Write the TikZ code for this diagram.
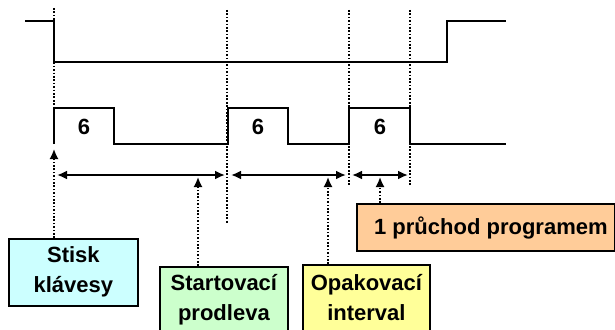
\documentclass[tikz,border=0pt]{standalone}
\usepackage{fontspec}
\setmainfont{Liberation Sans}
\usetikzlibrary{arrows.meta}
\definecolor{keyfill}{HTML}{CCFFFF}
\definecolor{startfill}{HTML}{CCFFCC}
\definecolor{repeatfill}{HTML}{FFFF99}
\definecolor{passfill}{HTML}{FFCC99}
\begin{document}
\begin{tikzpicture}[x=1pt,y=-1pt,
  signal/.style={line width=2.2pt, line join=miter},
  guide/.style={line width=1.7pt, dash pattern=on 1.7pt off 1.7pt},
  span/.style={line width=2.4pt, {Latex[length=10pt,width=9pt]}-{Latex[length=10pt,width=9pt]}},
  pointer/.style={guide, -{Latex[length=10pt,width=9pt]}},
  box/.style={draw, line width=1.8pt, inner sep=0pt, anchor=north west},
  boxtext/.style={font=\bfseries\fontsize{22}{30}\selectfont, align=center, anchor=base, inner sep=0pt},
  pulsetext/.style={font=\bfseries\fontsize{22}{25}\selectfont, inner sep=0pt}]

\useasboundingbox (0,0) rectangle (615,329);
\fill[white] (0,0) rectangle (615,329);

% time marks
\coordinate (t0top) at (54,8);    \coordinate (t0bot) at (54,143);
\coordinate (t1top) at (227,10);  \coordinate (t1bot) at (227,223);
\coordinate (t2top) at (349,10);  \coordinate (t2bot) at (349,185);
\coordinate (t3top) at (410,10);  \coordinate (t3bot) at (410,185);
\draw[guide] (t0top) -- (t0bot);
\draw[guide] (t1top) -- (t1bot);
\draw[guide] (t2top) -- (t2bot);
\draw[guide] (t3top) -- (t3bot);

% key signal
\draw[signal] (25,21) -- (54,21) -- (54,62) -- (447,62) -- (447,21) -- (506,21);

% output pulses
\draw[signal] (54,144) -- (54,108) -- (114,108) -- (114,144) -- (228,144)
  -- (228,108) -- (288,108) -- (288,144) -- (349,144) -- (349,108)
  -- (410,108) -- (410,144) -- (506,144);
\node[pulsetext] (p1) at (84,127) {6};
\node[pulsetext] (p2) at (258,127) {6};
\node[pulsetext] (p3) at (380,127) {6};

% interval spans
\coordinate (s0) at (57,175);  \coordinate (s1) at (225,175);
\coordinate (s2) at (231,175); \coordinate (s3) at (346,175);
\coordinate (s4) at (352,175); \coordinate (s5) at (408,175);
\draw[span] (s0) -- (s1);
\draw[span] (s2) -- (s3);
\draw[span] (s4) -- (s5);

% label boxes (text anchored on the baseline of its last line)
\node[box, fill=keyfill, minimum width=129pt, minimum height=67pt] (stisk) at (8,238) {};
\node[boxtext] (stisktxt) at ([yshift=-54pt]stisk.north) {Stisk\\klávesy};

\node[box, fill=startfill, minimum width=128pt, minimum height=90pt] (start) at (159,266) {};
\node[boxtext] (starttxt) at ([yshift=-54pt]start.north) {Startovací\\prodleva};

\node[box, fill=repeatfill, minimum width=127pt, minimum height=90pt] (opak) at (302,264) {};
\node[boxtext] (opaktxt) at ([yshift=-56pt]opak.north) {Opakovací\\interval};

\node[box, fill=passfill, minimum width=258pt, minimum height=47pt] (pruchod) at (356,203) {};
\node[boxtext] (pruchodtxt) at ([xshift=5pt,yshift=-31pt]pruchod.north) {1 průchod programem};

% pointers from labels
\coordinate (k0) at (54,149);
\coordinate (k1) at (198,177);
\coordinate (k2) at (328,177);
\coordinate (k3) at (380,177);
\draw[pointer] (stisk.north -| k0) -- (k0);
\draw[pointer] (start.north -| k1) -- (k1);
\draw[pointer] (opak.north -| k2) -- (k2);
\draw[pointer] (pruchod.north -| k3) -- (k3);
\end{tikzpicture}
\end{document}
